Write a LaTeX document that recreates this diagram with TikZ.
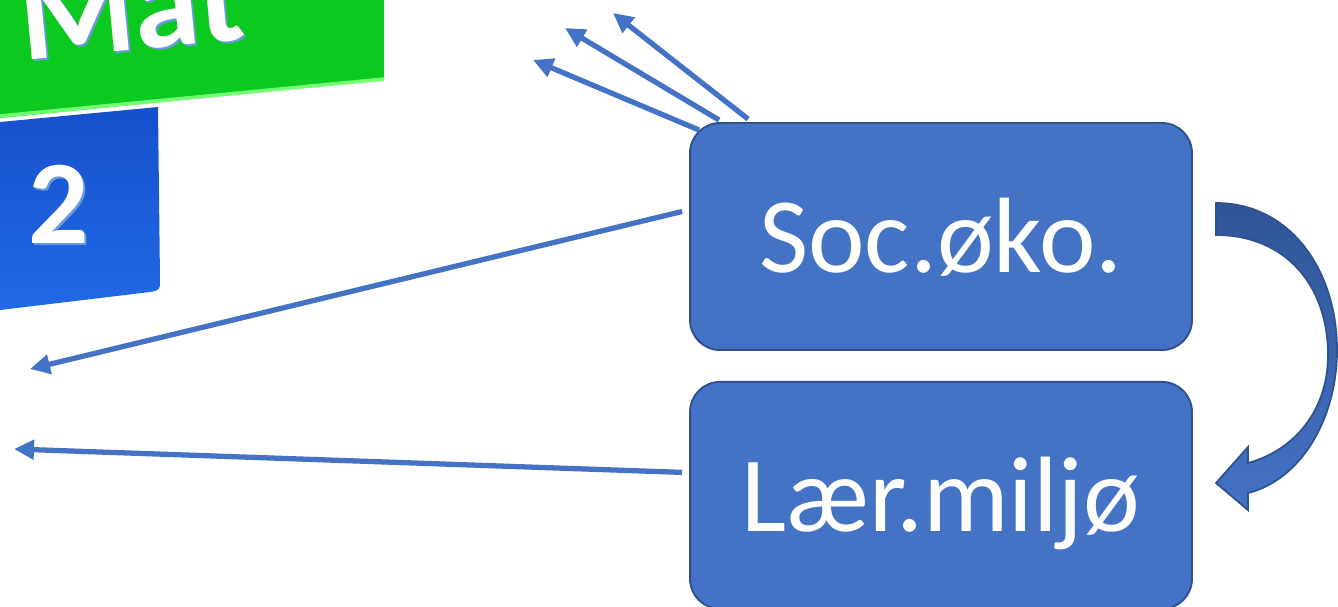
\documentclass[tikz,border=0pt]{standalone}
\usepackage{fontspec}
\setmainfont{Carlito}
\usetikzlibrary{arrows.meta,positioning,calc}
\definecolor{mkBox}{HTML}{4472C4}
\definecolor{mkEdge}{HTML}{2F528F}
\definecolor{mkDark}{HTML}{2F5597}
\definecolor{mkGreen}{HTML}{0CC91F}
\definecolor{mkCube}{HTML}{2169E4}
\definecolor{mkCubeTop}{HTML}{1650CC}
\definecolor{mkGlow}{HTML}{6A9AD8}
\tikzset{
  topic/.style={
    draw=mkEdge, line width=1.1pt, fill=mkBox, rounded corners=0.6cm,
    minimum width=10.04cm, minimum height=4.54cm, inner sep=0pt,
    text=white, font=\fontsize{61}{70}\selectfont, text height=41pt, text depth=0pt
  },
  link/.style={-{Triangle[length=4mm,width=3.8mm]}, line width=3pt, mkBox},
  cubetext/.style={font=\fontsize{68}{80}\selectfont\bfseries, anchor=base west, inner sep=0pt},
  turn/.style={top color=mkDark, bottom color=mkBox, draw=mkEdge, line width=1pt}
}
\begin{document}
\begin{tikzpicture}[x=0.02cm, y=-0.02cm]
  \useasboundingbox (0,0) rectangle (1338,606);
  % cubes cut from the photo
  \begin{scope}
    \clip (0,0) rectangle (384,606);
    \fill[mkGreen] (0,0) -- (384,0) -- (384,80) -- (0,118) -- cycle;
    \draw[green!55!white, line width=2pt] (0,116) -- (384,79);
    \shade[top color=mkCubeTop, bottom color=mkCube]
      (0,122) -- (158,107) -- (160,280) .. controls (160,290) .. (150,292) -- (0,310) -- cycle;
    \node[cubetext, font=\fontsize{75}{85}\selectfont\bfseries, text=mkGlow, rotate=5.5] at (25,63) {Mat};
    \node[cubetext, font=\fontsize{75}{85}\selectfont\bfseries, text=white, rotate=5.5] (mat) at (23,61) {Mat};
    \node[cubetext, text=mkGlow] at (30,245) {2};
    \node[cubetext, text=white] (two) at (28,243) {2};
  \end{scope}
  \node[topic] (soc) at (941,236.5) {Soc.øko.};
  \node[topic, below=0.6cm of soc] (mil) {Lær.miljø};
  \coordinate (u1) at (533,60);
  \coordinate (u2) at (565,28);
  \coordinate (u3) at (613,13);
  \coordinate (l1) at (30,369);
  \coordinate (l2) at (14,449);
  \draw[link] ([shift={(10,8)}]soc.north west) -- (u1);
  \draw[link] ([shift={(30,-2)}]soc.north west) -- (u2);
  \draw[link] ([shift={(59,-3)}]soc.north west) -- (u3);
  \draw[link] ([shift={(-7,-25)}]soc.west) -- (l1);
  \draw[link] ([shift={(-7,-23)}]mil.west) -- (l2);
  % curved block arrow from soc to mil
  \shade[turn] (1216,203) .. controls (1290,203) and (1337,270) .. (1337,350)
    .. controls (1337,420) and (1300,480) .. (1248,493)
    -- (1248,510) -- (1216,483) -- (1248,447) -- (1248,463)
    .. controls (1295,450) and (1328,410) .. (1328,355)
    .. controls (1328,285) and (1285,235) .. (1216,235) -- cycle;
\end{tikzpicture}
\end{document}
